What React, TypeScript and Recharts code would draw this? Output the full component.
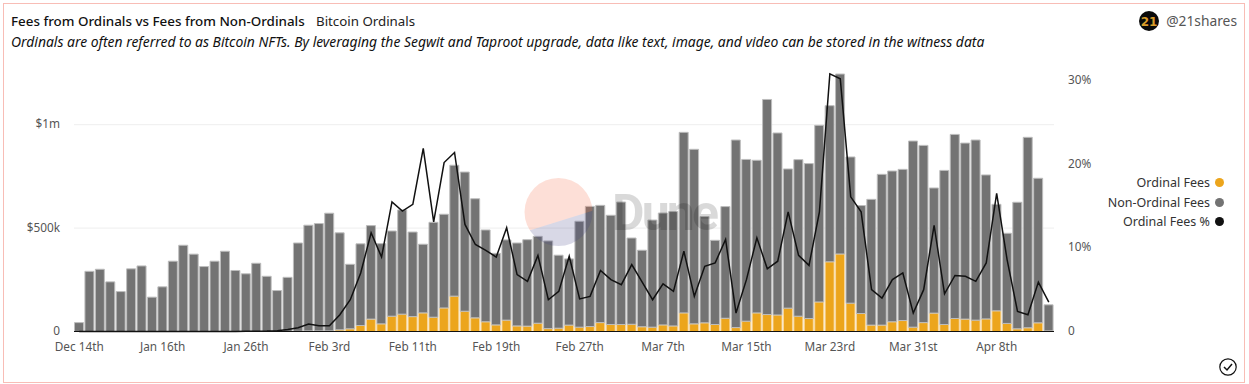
import React from "react";
import { ComposedChart, Bar, Line, XAxis, YAxis, CartesianGrid, Legend } from "recharts";

const categories = [
  "Dec 14th","Jan 9th","Jan 10th","Jan 11th","Jan 12th","Jan 13th","Jan 14th","Jan 15th",
  "Jan 16th","Jan 17th","Jan 18th","Jan 19th","Jan 20th","Jan 21st","Jan 22nd","Jan 24th",
  "Jan 26th","Jan 27th","Jan 28th","Jan 29th","Jan 30th","Jan 31st","Feb 1st","Feb 2nd",
  "Feb 3rd","Feb 4th","Feb 5th","Feb 6th","Feb 7th","Feb 8th","Feb 9th","Feb 10th",
  "Feb 11th","Feb 12th","Feb 13th","Feb 14th","Feb 15th","Feb 16th","Feb 17th","Feb 18th",
  "Feb 19th","Feb 20th","Feb 21st","Feb 22nd","Feb 23rd","Feb 24th","Feb 25th","Feb 26th",
  "Feb 27th","Feb 28th","Mar 1st","Mar 2nd","Mar 3rd","Mar 4th","Mar 5th","Mar 6th",
  "Mar 7th","Mar 8th","Mar 9th","Mar 10th","Mar 11th","Mar 12th","Mar 13th","Mar 14th",
  "Mar 15th","Mar 16th","Mar 17th","Mar 18th","Mar 19th","Mar 20th","Mar 21st","Mar 22nd",
  "Mar 23rd","Mar 24th","Mar 25th","Mar 26th","Mar 27th","Mar 28th","Mar 29th","Mar 30th",
  "Mar 31st","Apr 1st","Apr 2nd","Apr 3rd","Apr 4th","Apr 5th","Apr 6th","Apr 7th",
  "Apr 8th","Apr 9th","Apr 10th","Apr 11th","Apr 12th","Apr 13th",
];

const xTicks = ["Dec 14th","Jan 16th","Jan 26th","Feb 3rd","Feb 11th","Feb 19th","Feb 27th","Mar 7th","Mar 15th","Mar 23rd","Mar 31st","Apr 8th"];

const totalFeesK = [
  43,291,301,240,193,303,317,166,216,340,417,374,314,340,388,295,279,330,267,198,262,428,514,522,
  572,477,325,424,512,425,486,588,481,422,528,567,804,771,642,491,378,443,428,444,460,438,369,351,
  533,605,610,562,626,452,393,539,573,580,963,881,556,441,604,926,832,828,1122,960,786,831,812,997,
  1092,1245,844,609,639,760,776,784,921,900,694,779,953,911,926,757,615,475,625,939,741,129,
];

const ordinalFeesK = [
  0,0,0,0,0,0,0,0,0,0,0,0,0,0,0,0,0,0,0,0,0,1,3,3,
  3,8,13,29,60,37,74,84,72,90,69,114,171,98,66,47,32,55,27,26,40,14,16,31,
  21,24,43,34,34,35,23,21,32,27,90,37,42,34,64,19,50,90,82,80,113,74,63,143,
  337,375,137,87,31,31,47,53,21,43,89,34,63,60,55,61,100,39,13,18,42,3,
];

const ordinalPct = [
  0,0,0,0,0,0,0,0,0,0,0,0,0,0,0,0,0.02,0.03,0.05,0.1,0.25,0.45,0.9,0.7,
  0.7,2.0,3.8,7.0,11.8,8.9,15.5,14.4,15.2,21.9,13.1,20.2,21.4,12.8,10.4,9.7,8.9,12.4,6.8,6.0,9.1,3.8,4.8,9.0,
  3.9,4.2,7.3,6.2,5.6,8.0,5.9,3.8,5.7,4.8,9.6,4.2,7.8,8.2,11.0,2.2,6.2,11.2,7.5,8.4,14.3,9.1,7.9,14.3,
  30.8,30.2,16.1,14.3,5.0,4.0,6.2,7.0,2.2,5.0,12.7,4.5,6.7,6.6,6.0,8.2,16.5,8.6,2.4,2.0,5.9,3.5,
];

const rows = categories.map((day, i) => ({
  day,
  ordinal: ordinalFeesK[i] * 1000,
  nonOrdinal: (totalFeesK[i] - ordinalFeesK[i]) * 1000,
  pct: ordinalPct[i],
}));

const titleText = "Fees from Ordinals vs Fees from Non-Ordinals";
const subtitleTag = "Bitcoin Ordinals";
const descriptionText = "Ordinals are often referred to as Bitcoin NFTs. By leveraging the Segwit and Taproot upgrade, data like text, image, and video can be stored in the witness data";
const authorText = "@21shares";

const FONT = "'Noto Sans', sans-serif";
const tickStyle = { fontSize: 11.8, fill: "#555", fontFamily: FONT };
const yTickStyle = { ...tickStyle, dy: -0.6 };

function fmtLeft(v: number) {
  if (v === 0) return "0";
  return v >= 1000000 ? `$${v / 1000000}m` : `$${v / 1000}k`;
}

function LegendContent(props: any) {
  return (
    <div style={{ fontFamily: FONT, fontSize: 12.5, color: "#333", textAlign: "right" }}>
      {(props.payload || []).map((p: any) => (
        <div key={p.value} style={{ height: 19.5, lineHeight: "19.5px", whiteSpace: "nowrap" }}>
          {p.value}
          <span style={{ display: "inline-block", width: 9, height: 9, borderRadius: 5, background: p.color, marginLeft: 5 }} />
        </div>
      ))}
    </div>
  );
}

export default function App() {
  return (
    <div style={{ position: "absolute", left: 0, top: 0, width: 1249, height: 384, background: "#fff", overflow: "hidden" }}>
      <div style={{ position: "absolute", left: 3, top: 3, width: 1240, height: 378, border: "1px solid #f8bdb6" }} />
      <div style={{ position: "absolute", left: 11, top: 12, fontFamily: FONT, fontSize: 13.4, fontWeight: 500, color: "#111", whiteSpace: "nowrap", lineHeight: "18px" }}>{titleText}</div>
      <div style={{ position: "absolute", left: 316, top: 12, fontFamily: FONT, fontSize: 13.3, color: "#222", whiteSpace: "nowrap", lineHeight: "18px" }}>{subtitleTag}</div>
      <div style={{ position: "absolute", left: 11, top: 33, fontFamily: FONT, fontSize: 13.9, fontStyle: "italic", color: "#111", whiteSpace: "nowrap", lineHeight: "18px" }}>{descriptionText}</div>
      <div style={{ position: "absolute", right: 12, top: 12, fontFamily: FONT, fontSize: 13.8, color: "#555", whiteSpace: "nowrap", lineHeight: "18px" }}>{authorText}</div>

      <ComposedChart width={1249} height={384} data={rows} margin={{ top: 73, right: 0, bottom: 0, left: 0 }} barCategoryGap={0.5} style={{ position: "absolute", left: 0, top: 0 }}>
        <CartesianGrid yAxisId="left" vertical={false} horizontal stroke="#eeeeee" syncWithTicks />
        <XAxis dataKey="day" ticks={xTicks} interval={0} height={52.5} tickLine={false} axisLine={{ stroke: "#111" }} tick={tickStyle} tickMargin={5} />
        <YAxis yAxisId="left" orientation="left" width={74} domain={[0, 1250000]} ticks={[0, 500000, 1000000]} tickFormatter={fmtLeft} tick={yTickStyle} axisLine={false} tickLine={false} tickMargin={8} />
        <YAxis yAxisId="right" orientation="right" width={195} domain={[0, 30.9]} ticks={[0, 10, 20, 30]} tickFormatter={(v: number) => (v === 0 ? "0" : `${v}%`)} tick={yTickStyle} axisLine={false} tickLine={false} tickMargin={8} />
        <Bar yAxisId="left" name="Ordinal Fees" dataKey="ordinal" stackId="a" fill="#eca51c" stroke="#f8d69a" strokeWidth={1} isAnimationActive={false} />
        <Bar yAxisId="left" name="Non-Ordinal Fees" dataKey="nonOrdinal" stackId="a" fill="#737373" stroke="#bdbdbd" strokeWidth={1} isAnimationActive={false} />
        <Line yAxisId="right" name="Ordinal Fees %" dataKey="pct" type="linear" stroke="#111" strokeWidth={1.5} dot={false} isAnimationActive={false} />
        <Legend layout="vertical" verticalAlign="middle" align="center" itemSorter={null} content={<LegendContent />} wrapperStyle={{ position: "absolute", top: 173, right: 25, left: "auto", width: 220 }} />
      </ComposedChart>

      <svg width={1249} height={384} style={{ position: "absolute", left: 0, top: 0, pointerEvents: "none" }}>
        <defs>
          <clipPath id="logoLower"><polygon points="510,236.5 600,208.5 600,260 510,260" /></clipPath>
          <clipPath id="logoUpper"><polygon points="510,236.5 600,208.5 600,160 510,160" /></clipPath>
        </defs>
        <circle cx={558.5} cy={212} r={34} fill="#f46036" fillOpacity={0.2} clipPath="url(#logoUpper)" />
        <circle cx={558.5} cy={212} r={34} fill="#3c3c82" fillOpacity={0.2} clipPath="url(#logoLower)" />
        <text x={612} y={230} fontFamily="Roboto, sans-serif" fontWeight={700} fontSize={50} fill="#000" fillOpacity={0.15} textLength={107}>Dune</text>
        <circle cx={1149} cy={21} r={10} fill="#0a0a0a" />
        <text x={1149} y={25.5} textAnchor="middle" fontFamily="'DejaVu Sans', sans-serif" fontWeight={700} fontSize={12} fill="#d99d2b">21</text>
        <circle cx={1228} cy={367} r={8.2} fill="none" stroke="#111" strokeWidth={1.2} />
        <path d="M1224 367 L1227 370 L1232 364" fill="none" stroke="#111" strokeWidth={1.5} />
      </svg>
    </div>
  );
}
